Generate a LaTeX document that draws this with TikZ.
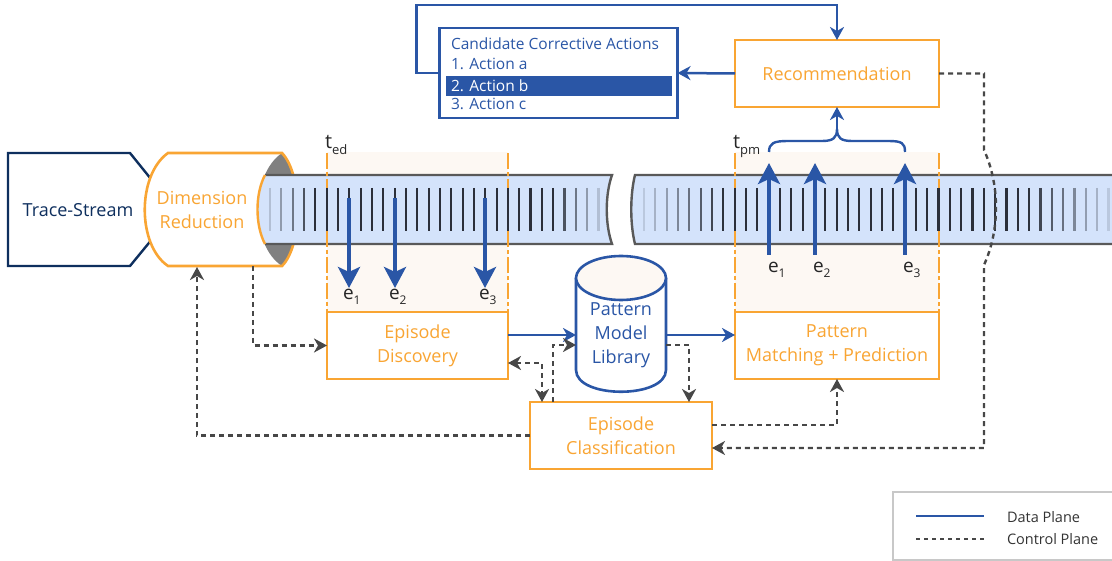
\documentclass[tikz,border=0pt]{standalone}
\usepackage{fontspec}
\setmainfont{Open Sans}
\usetikzlibrary{arrows.meta,calc}
\definecolor{orng}{HTML}{F9A533}
\definecolor{dblue}{HTML}{2A56A6}
\definecolor{navy}{HTML}{0E2F5E}
\definecolor{cgray}{HTML}{474747}
\definecolor{tubeblue}{HTML}{D4E3FB}
\definecolor{cream}{HTML}{FDF8F3}
\definecolor{tickc}{HTML}{2B2F3A}
\definecolor{lensgray}{HTML}{808080}
\definecolor{leggray}{HTML}{C8C8C8}
\begin{document}
\begin{tikzpicture}[x=1pt,y=-1pt,
  >={Stealth[length=13pt,width=14pt,inset=4pt]},
  every node/.style={inner sep=0pt, outer sep=0pt},
  lbl/.style={font=\fontsize{18}{24}\selectfont, align=center},
  obox/.style={lbl, draw=orng, line width=2.6pt, fill=white, text=orng},
  data/.style={draw=dblue, line width=2.5pt, ->},
  ctrl/.style={draw=cgray, line width=2.4pt, dash pattern=on 5pt off 4pt, ->},
  earrow/.style={draw=dblue, line width=4.5pt, -{Stealth[length=21pt,width=22pt,inset=5pt]}},
  tick/.style={draw=tickc, line width=2.2pt},
  win/.style={draw=orng, line width=2.4pt, dash pattern=on 16pt off 3pt on 4pt off 3pt},
  elab/.style={anchor=west, font=\fontsize{19}{19}\selectfont, text=black!85},
  tlab/.style={anchor=base west, font=\fontsize{20}{20}\selectfont, text=black!85},
  candtxt/.style={anchor=west, font=\fontsize{15.5}{15.5}\selectfont, text=dblue},
  legtxt/.style={anchor=west, font=\fontsize{14.5}{14.5}\selectfont, text=black!80},
]
\useasboundingbox (0,0) rectangle (1112,561);

% ---------- Trace-Stream ----------
\draw[navy, line width=2.4pt, fill=white] (8,153) -- (130,153) -- (176,210) -- (130,266) -- (8,266) -- cycle;
\node[lbl, text=navy] (ts) at (78,210) {Trace-Stream};

% ---------- Dimension Reduction ----------
\fill[white] (168,153) -- (282,153) .. controls (303,175) and (303,245) .. (282,266)
  -- (168,266) .. controls (137,245) and (137,175) .. (168,153) -- cycle;
\fill[lensgray] (282,153) .. controls (250,175) and (250,245) .. (282,266)
  .. controls (303,245) and (303,175) .. (282,153) -- cycle;
\draw[orng, line width=2.6pt] (168,153) -- (282,153) .. controls (303,175) and (303,245) .. (282,266)
  -- (168,266) .. controls (137,245) and (137,175) .. (168,153) -- cycle;
\node[lbl, text=orng] (dr) at (202,210) {Dimension\\Reduction};

% ---------- windows ----------
\fill[cream] (327,152) rectangle (508,312);
\fill[cream] (735,152) rectangle (939,312);

% ---------- tubes ----------
\fill[tubeblue] (265,175) -- (612,175) .. controls (605,195) and (605,224) .. (612,244)
  -- (265,244) .. controls (255,225) and (255,194) .. (265,175) -- cycle;
\draw[black!65, line width=2.4pt] (265,175) -- (612,175) .. controls (605,195) and (605,224) .. (612,244) -- (265,244);
\draw[orng, line width=2.4pt] (265,244) .. controls (255,225) and (255,194) .. (265,175);
\fill[tubeblue] (635,175) -- (1116,175) -- (1116,244) -- (635,244)
  .. controls (630,224) and (630,195) .. (635,175) -- cycle;
\draw[black!65, line width=2.4pt] (1116,175) -- (635,175) .. controls (630,195) and (630,224) .. (635,244) -- (1116,244);

% window borders
\draw[win] (327,153) -- (327,312);
\draw[win] (508,153) -- (508,312);
\draw[win] (735,153) -- (735,312);
\draw[win] (939,153) -- (939,312);

% ticks
\foreach \i in {0,...,29}{
  \pgfmathsetmacro\xx{270+11.33*\i}
  \pgfmathsetmacro\op{min(1,0.2+0.2*min(\i,29-\i))}
  \draw[tick, draw opacity=\op] (\xx,188) -- (\xx,231);
}
\foreach \i in {0,...,41}{
  \pgfmathsetmacro\xx{644+11.33*\i}
  \pgfmathsetmacro\op{min(1,0.15+0.12*min(\i,41-\i))}
  \draw[tick, draw opacity=\op] (\xx,188) -- (\xx,231);
}

% time labels
\node[tlab] (ted) at (325,149) {t\raisebox{-6pt}{\fontsize{13}{13}\selectfont ed}};
\node[tlab] (tpm) at (733,149) {t\raisebox{-6pt}{\fontsize{13}{13}\selectfont pm}};

% ---------- episode arrows (ED) ----------
\coordinate (a1s) at (349,198); \coordinate (a1e) at (349,288);
\coordinate (a2s) at (395,198); \coordinate (a2e) at (395,288);
\coordinate (a3s) at (485,198); \coordinate (a3e) at (485,288);
\draw[earrow] (a1s) -- (a1e);
\draw[earrow] (a2s) -- (a2e);
\draw[earrow] (a3s) -- (a3e);
\node[elab] (le1) at (343,297) {e\raisebox{-5pt}{\fontsize{12}{12}\selectfont 1}};
\node[elab] (le2) at (389,297) {e\raisebox{-5pt}{\fontsize{12}{12}\selectfont 2}};
\node[elab] (le3) at (479,297) {e\raisebox{-5pt}{\fontsize{12}{12}\selectfont 3}};

% ---------- episode arrows (PM) ----------
\coordinate (b1s) at (769,255); \coordinate (b1e) at (769,163);
\coordinate (b2s) at (815,255); \coordinate (b2e) at (815,163);
\coordinate (b3s) at (905,255); \coordinate (b3e) at (905,163);
\draw[earrow] (b1s) -- (b1e);
\draw[earrow] (b2s) -- (b2e);
\draw[earrow] (b3s) -- (b3e);
\node[elab] (me1) at (768,270) {e\raisebox{-5pt}{\fontsize{12}{12}\selectfont 1}};
\node[elab] (me2) at (813,270) {e\raisebox{-5pt}{\fontsize{12}{12}\selectfont 2}};
\node[elab] (me3) at (903,270) {e\raisebox{-5pt}{\fontsize{12}{12}\selectfont 3}};

% ---------- boxes ----------
\node[obox, minimum width=181pt, minimum height=67pt] (ed) at (417.5,345.5) {Episode\\Discovery};
\node[obox, minimum width=204pt, minimum height=67pt] (pmp) at (837,345.5) {Pattern\\Matching + Prediction};
\node[obox, minimum width=182pt, minimum height=67pt] (ecl) at (621,435.5) {Episode\\Classification};
\node[obox, minimum width=204pt, minimum height=67pt] (rec) at (837,73.5) {Recommendation};

% ---------- Pattern Model Library cylinder ----------
\filldraw[draw=dblue, fill=white, line width=2.6pt] (576,278) -- (576,370) .. controls (576,399) and (666,399) .. (666,370) -- (666,278);
\filldraw[draw=dblue, fill=cream, line width=2.6pt] (621,278) ellipse [x radius=45pt, y radius=22pt];
\node[lbl, text=dblue, minimum width=90pt, minimum height=92pt] (pml) at (621,335) {Pattern\\Model\\Library};

% ---------- candidate actions ----------
\node[draw=dblue, line width=2.4pt, minimum width=238pt, minimum height=90pt] (cand) at (558.5,73) {};
\fill[dblue] (446,76) rectangle (672,96);
\node[candtxt] (ct) at (451,44) {Candidate Corrective Actions};
\node[candtxt] (ca) at (451,64) {1. Action a};
\node[candtxt, text=white] (cb) at (451,86) {2. Action b};
\node[candtxt] (cc) at (451,104) {3. Action c};

% ---------- brace ----------
\coordinate (bl) at (769,152); \coordinate (bt) at (837,129); \coordinate (br) at (905,152);
\draw[dblue, line width=2.4pt] (bl) .. controls (769,143) and (774,141) .. (788,141) -- (822,141)
  .. controls (833,141) and (837,138) .. (bt) .. controls (837,138) and (841,141) .. (852,141)
  -- (888,141) .. controls (902,141) and (905,143) .. (br);
\draw[data] (bt) -- (rec.south);

% ---------- data plane ----------
\draw[data] (ed.east |- pml.west) -- (pml.west);
\draw[data] (pml.east) -- (pmp.west |- pml.east);
\draw[data] (rec.west) -- (cand.east);
\draw[data] (cand.west) -- ++(-23,0) |- ($(rec.north)+(0,-35)$) -- (rec.north);

% ---------- control plane ----------
\coordinate (drA) at (253,266);
\coordinate (drB) at (197,267);
\coordinate (eclA) at (553,402); \coordinate (pmlA) at (576,345);
\coordinate (edB) at (508,363); \coordinate (eclB) at (542,402);
\coordinate (pmlB) at (666,345); \coordinate (eclC) at (689,402);
\coordinate (eclD) at (712,425);
\coordinate (eclE) at (712,448);
\draw[ctrl] (drA) |- (ed.west);
\draw[ctrl] (ecl.west) -| (drB);
\draw[ctrl] (eclA) |- (pmlA);
\draw[ctrl, <->] (edB) -| (eclB);
\draw[ctrl] (pmlB) -| (eclC);
\draw[ctrl] (eclD) -| (pmp.south);
\draw[ctrl] (rec.east) -- (984,73.5) -- (984,150) .. controls (1000,185) and (1000,230) .. (984,265) -- (984,448) -- (eclE);

% ---------- legend ----------
\draw[leggray, line width=1.8pt] (893,492) rectangle (1125,560);
\coordinate (l1a) at (916,516); \coordinate (l1b) at (984,516);
\coordinate (l2a) at (916,539); \coordinate (l2b) at (984,539);
\draw[dblue, line width=2.4pt] (l1a) -- (l1b);
\draw[cgray, line width=2pt, dash pattern=on 4pt off 4pt] (l2a) -- (l2b);
\node[legtxt] (ldp) at (1007,517) {Data Plane};
\node[legtxt] (lcp) at (1007,539) {Control Plane};
\end{tikzpicture}
\end{document}
